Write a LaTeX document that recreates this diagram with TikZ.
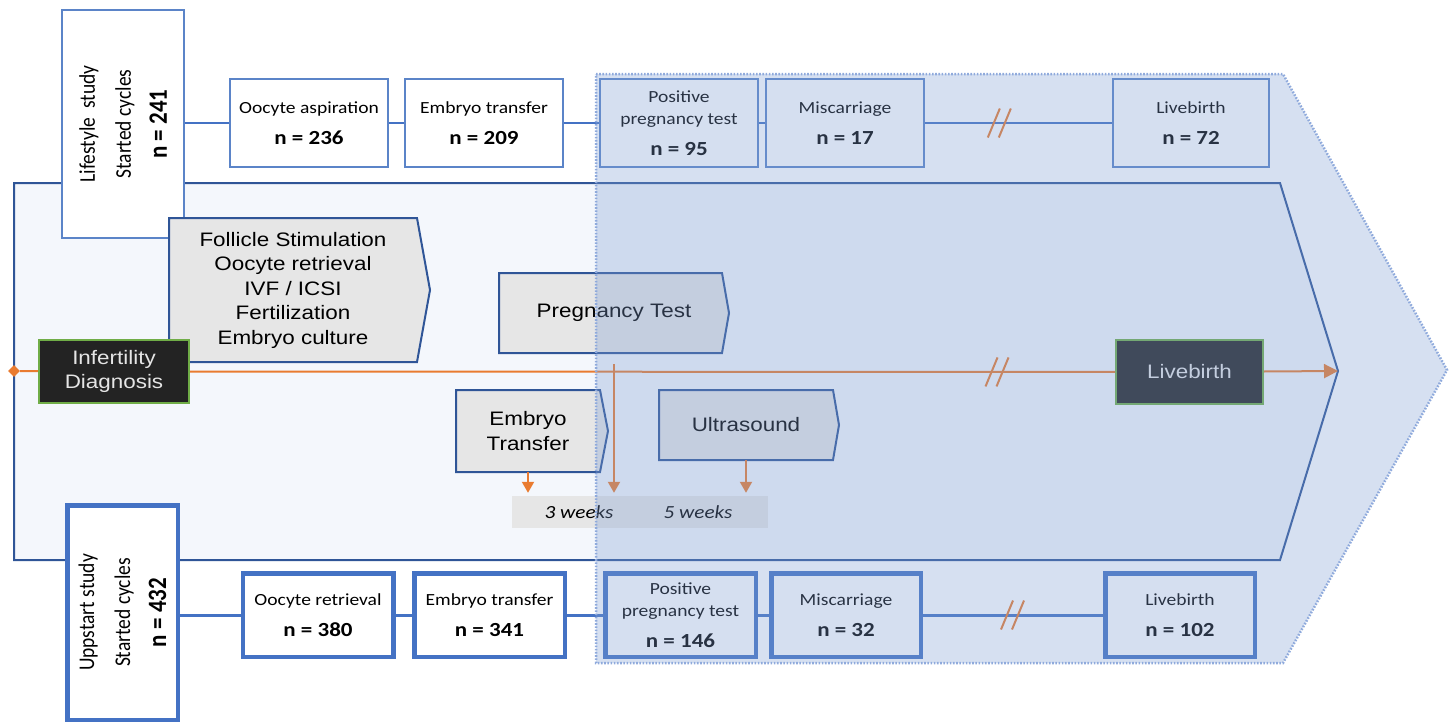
\documentclass[tikz,border=0pt]{standalone}
\usepackage{fontspec}
\setmainfont{Carlito}[FakeStretch=1.15]
\newfontfamily\arialf{Liberation Sans}[FakeStretch=1.15]
\newfontfamily\calrot{Carlito}
\usetikzlibrary{arrows.meta,shapes.geometric,calc}
\definecolor{bandfill}{HTML}{F4F7FC}
\definecolor{bandline}{HTML}{2F5597}
\definecolor{boxline}{HTML}{4472C4}
\definecolor{boxlinelt}{HTML}{5B84C8}
\definecolor{orng}{HTML}{E97B30}
\definecolor{procfill}{HTML}{E6E6E6}
\definecolor{darkfill}{HTML}{232323}
\definecolor{grn}{HTML}{70AD47}
\definecolor{ovl}{HTML}{7F9ED3}
\definecolor{dotc}{HTML}{8FAADC}
\tikzset{
  rowbox/.style={draw=boxlinelt, line width=2.2pt, fill=white, align=center, inner sep=0pt,
    text=black, font=\fontsize{17}{22}\selectfont, minimum width=158pt, minimum height=88pt},
  rowboxB/.style={rowbox, draw=boxline, line width=4.5pt, minimum width=150.5pt, minimum height=83.5pt},
  conn/.style={draw=boxline, line width=2.5pt},
  connB/.style={draw=boxline, line width=3pt},
  proc/.style={fill=procfill, draw=bandline, line width=2pt, line join=miter},
  proctext/.style={inner sep=0pt, align=center, font=\arialf\fontsize{19.5}{24.5}\selectfont},
  darkbox/.style={fill=darkfill, draw=grn, line width=2pt, text=white!90!black, align=center,
    inner sep=0pt, font=\arialf\fontsize{19.5}{24}\selectfont},
  oline/.style={draw=orng, line width=2pt},
  brk/.style={draw=orng, line width=2pt},
  rottext/.style={rotate=90, yscale=1.15, align=center, inner sep=0pt, font=\calrot\fontsize{19.5}{31.3}\selectfont},
  warrow/.style={oline, -{Triangle[length=11pt,width=12pt]}, shorten >=3pt}
}
\newcommand{\nval}[1]{{\bfseries\fontsize{20}{22}\selectfont #1}}
\newcommand{\nrot}[1]{{\bfseries\fontsize{23}{31.3}\selectfont #1}}
\begin{document}
\begin{tikzpicture}[x=1pt,y=-1pt]
\useasboundingbox (0,0) rectangle (1450,725);

% middle band
\draw[fill=bandfill, draw=bandline, line width=2pt] (14,183) -- (1280,183) -- (1338,371) -- (1280,560) -- (14,560) -- cycle;
\coordinate (apex) at (1338,371);

% study boxes
\node[rowbox, minimum width=122pt, minimum height=228pt] (ls) at (123,124) {};
\node[rottext] (lsT) at (ls.center) {Lifestyle\ \ study\\Started cycles\\\nrot{n = 241}};
\node[rowboxB, minimum width=110.5pt, minimum height=214.5pt] (up) at (122.5,612.5) {};
\node[rottext] (upT) at (up.center) {Uppstart study\\Started cycles\\\nrot{n = 432}};

% process shapes
\draw[proc] (169,218) -- (417,218) -- (430,290) -- (417,362) -- (169,362) -- cycle;
\node[proctext, minimum width=248pt, minimum height=144pt] (fol) at (293,290) {Follicle Stimulation\\Oocyte retrieval\\IVF / ICSI\\Fertilization\\Embryo culture};
\draw[proc] (499,273) -- (722,273) -- (729,313) -- (722,353) -- (499,353) -- cycle;
\node[proctext, minimum width=230pt, minimum height=80pt] (pt) at (614,313) {Pregnancy Test};
\draw[proc] (456,390) -- (600,390) -- (608,431) -- (600,472) -- (456,472) -- cycle;
\node[proctext, minimum width=144pt, minimum height=82pt] (et) at (528,431) {Embryo\\Transfer};
\draw[proc] (659,390) -- (833,390) -- (839,425) -- (833,460) -- (659,460) -- cycle;
\node[proctext, minimum width=174pt, minimum height=70pt] (us) at (746,425) {Ultrasound};

% weeks bar
\node[fill=procfill, minimum width=256pt, minimum height=32pt, inner sep=0pt] (wk) at (640,512) {};
\node[inner sep=0pt, font=\itshape\fontsize{18.5}{20}\selectfont] (w3) at (579,512) {3 weeks};
\node[inner sep=0pt, font=\itshape\fontsize{18.5}{20}\selectfont] (w5) at (698,512) {5 weeks};
\draw[warrow] (et.south) -- (et.south |- wk.north);
\draw[warrow, shorten <=11pt] (pt.south) -- (pt.south |- wk.north);
\draw[warrow] (us.south) -- (us.south |- wk.north);

% central timeline
\node[diamond, fill=orng, inner sep=0pt, minimum size=12pt] (dia) at (14,371) {};
\node[darkbox, minimum width=150pt, minimum height=63pt] (inf) at (114,371.5) {Infertility\\Diagnosis};
\node[darkbox, minimum width=147pt, minimum height=64pt] (lbc) at (1189.5,372) {Livebirth};
\draw[oline] (dia) -- (inf);
\draw[oline] (inf) -- (lbc) coordinate[pos=0.873] (brkc);
\draw[oline, -{Triangle[length=14pt,width=14pt]}] (lbc) -- (apex);
\draw[brk] ($(brkc)+(-12,14.5)$) -- ++(12,-29);
\draw[brk] ($(brkc)+(-1,14.5)$) -- ++(12,-29);

% top row
\node[rowbox] (oa) at (309,123) {Oocyte aspiration\\[9pt]\nval{n = 236}};
\node[rowbox] (et1) at (484,123) {Embryo transfer\\[9pt]\nval{n = 209}};
\node[rowbox] (pp1) at (679,123) {Positive\\pregnancy test\\[9pt]\nval{n = 95}};
\node[rowbox] (mc1) at (845,123) {Miscarriage\\[9pt]\nval{n = 17}};
\node[rowbox, minimum width=156pt] (lb1) at (1191,123) {Livebirth\\[9pt]\nval{n = 72}};
\draw[conn] (oa.west -| ls.east) -- (oa.west);
\draw[conn] (oa) -- (et1);
\draw[conn] (et1) -- (pp1);
\draw[conn] (pp1) -- (mc1);
\draw[conn] (mc1) -- (lb1) coordinate[pos=0.4] (brk1);
\draw[brk] ($(brk1)+(-12,14.5)$) -- ++(12,-29);
\draw[brk] ($(brk1)+(-1,14.5)$) -- ++(12,-29);

% bottom row
\node[rowboxB] (or) at (318,615) {Oocyte retrieval\\[9pt]\nval{n = 380}};
\node[rowboxB] (et2) at (489.5,615) {Embryo transfer\\[9pt]\nval{n = 341}};
\node[rowboxB] (pp2) at (680.5,615) {Positive\\pregnancy test\\[9pt]\nval{n = 146}};
\node[rowboxB, minimum width=149.5pt] (mc2) at (846,615) {Miscarriage\\[9pt]\nval{n = 32}};
\node[rowboxB, minimum width=149.5pt] (lb2) at (1180,615) {Livebirth\\[9pt]\nval{n = 102}};
\draw[connB] (or.west -| up.east) -- (or.west);
\draw[connB] (or) -- (et2);
\draw[connB] (et2) -- (pp2);
\draw[connB] (pp2) -- (mc2);
\draw[connB] (mc2) -- (lb2) coordinate[pos=0.5] (brk2);
\draw[brk] ($(brk2)+(-12,14.5)$) -- ++(12,-29);
\draw[brk] ($(brk2)+(-1,14.5)$) -- ++(12,-29);

% overlay chevron
\fill[ovl, opacity=0.32] (596,74) -- (1283,74) -- (1447,370) -- (1283,663) -- (596,663) -- cycle;
\draw[dotc, line width=2.5pt, dash pattern=on 1.6pt off 1.6pt] (596,74) -- (1283,74) -- (1447,370) -- (1283,663) -- (596,663) -- cycle;
\end{tikzpicture}
\end{document}
